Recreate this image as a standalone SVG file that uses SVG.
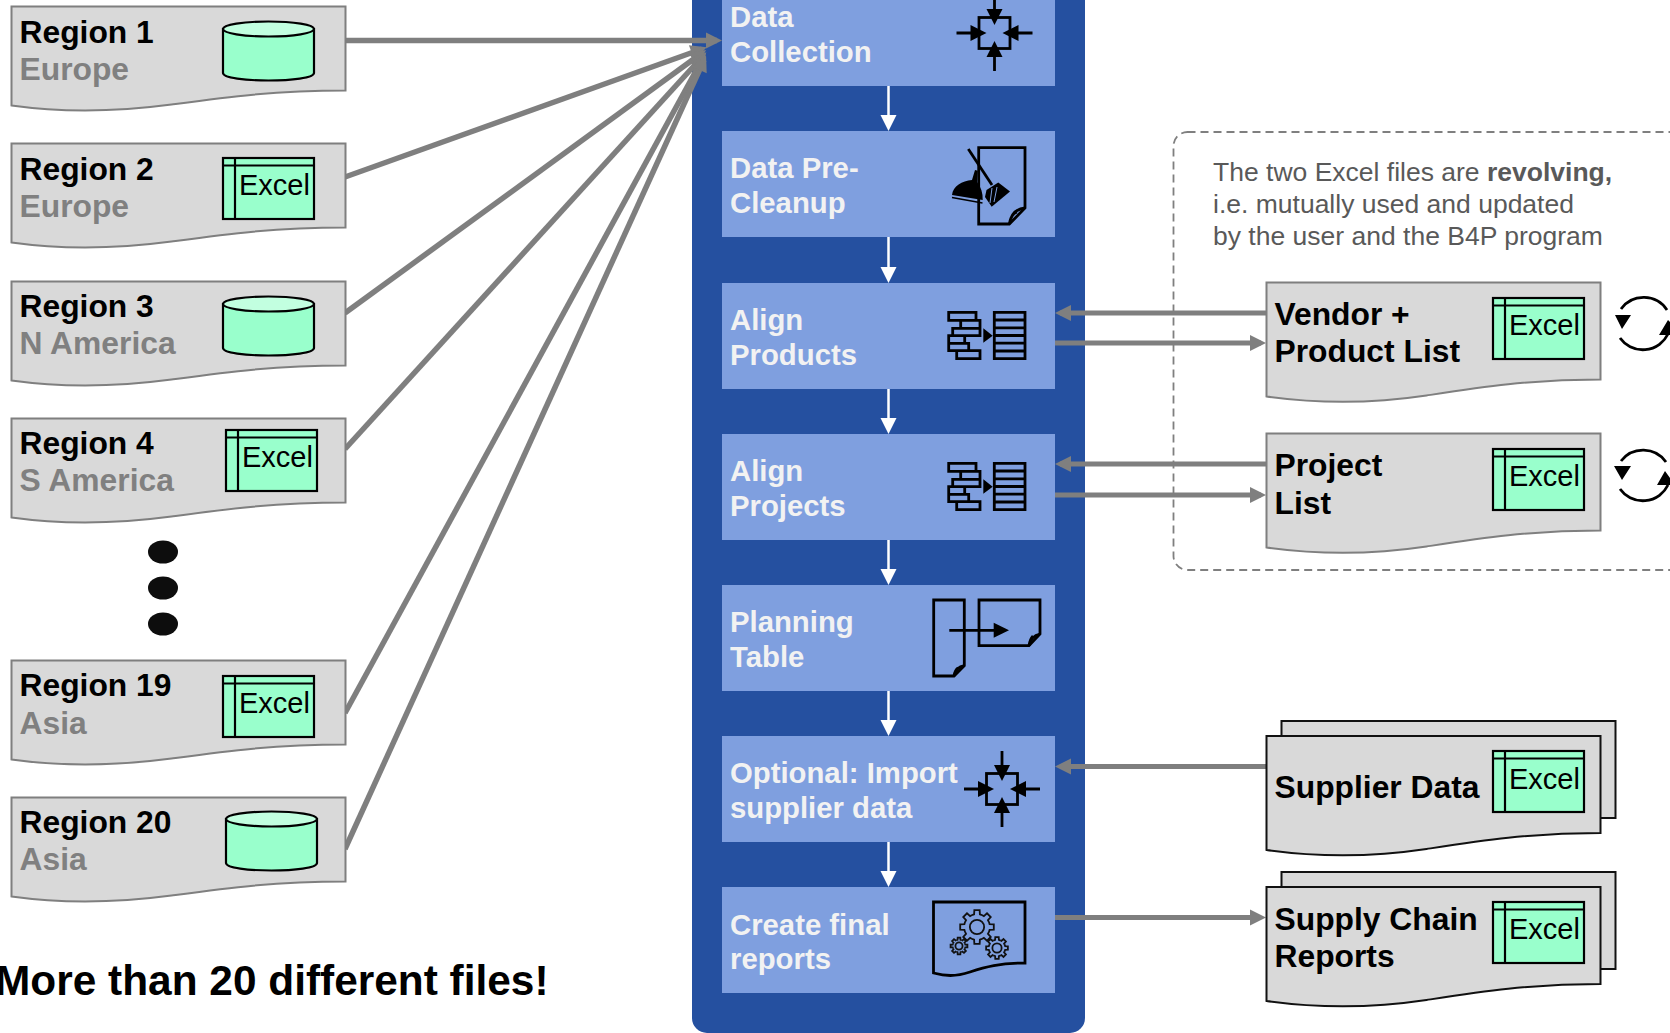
<svg xmlns="http://www.w3.org/2000/svg" xmlns:xlink="http://www.w3.org/1999/xlink" width="1670" height="1033" viewBox="0 0 1670 1033">
<style>
text{font-family:"Liberation Sans",Arial,sans-serif}
.t{font-weight:700;font-size:31.800px;fill:#000}
.s{font-weight:700;font-size:31.800px;fill:#808080}
.b{font-weight:700;font-size:29.300px;fill:#f2f2f2}
.x{font-size:29px;fill:#000}
.n{font-size:26.500px;fill:#595959}
.doc{fill:#d9d9d9;stroke:#7f7f7f;stroke-width:2}
.doc2{fill:#d9d9d9;stroke:#111;stroke-width:2}
.box{fill:#7f9fdf}
.ic{fill:none;stroke:#000;stroke-width:2.800}
.ar{fill:#000;stroke:none}
.g{stroke:#7f7f7f;stroke-width:5.500;fill:none}
.h{stroke:#7f7f7f;stroke-width:5;fill:none}
.w{stroke:#fff;stroke-width:2.500;fill:none}
.gear{fill:none;stroke:#111;stroke-width:1.800;vector-effect:non-scaling-stroke}
</style>
<defs>
<marker id="ga" markerUnits="userSpaceOnUse" markerWidth="18" markerHeight="18" refX="11" refY="8" orient="auto" overflow="visible"><path d="M0 0L16 8L0 16z" fill="#7f7f7f"/></marker>
<marker id="wa" markerUnits="userSpaceOnUse" markerWidth="18" markerHeight="18" refX="12" refY="8" orient="auto" overflow="visible"><path d="M0 0L16 8L0 16z" fill="#fff"/></marker>
<path id="d1" d="M0 0H334V84C262 84 212 91 160 98C100 106 50 106 0 99z"/>
<path id="d2" d="M0 0H334V97C262 97 212 105 160 113C100 122 50 121 0 114z"/>
<g id="xl"><rect x="0" y="0" width="91" height="61" fill="#9fc" stroke="#000" stroke-width="2.200"/><path d="M0 7.500H91M12 0V61" stroke="#000" stroke-width="2.200" fill="none"/></g>
<g id="cy"><path d="M0 8V52C0 62 91 62 91 52V8z" fill="#9fc" stroke="#000" stroke-width="2.200"/><ellipse cx="45.500" cy="8" rx="45.500" ry="7.500" fill="#c2ffe0" stroke="#000" stroke-width="2.200"/></g>
<g id="mg"><rect class="ic" x="-15.500" y="-15.500" width="31" height="31"/><path class="ic" d="M-38 0H-20M38 0H20M0 -38V-20M0 38V20"/><path class="ar" d="M-24 -8L-8 0L-24 8zM24 -8L8 0L24 8zM-8 -24L0 -8L8 -24zM-8 24L0 8L8 24z"/></g>
<g id="al"><path class="ic" d="M948.700 312.300h27.300v8h-27.300zM960.700 320.300h19.300v8h-19.300zM952.700 328.300h27.300v7.400h-27.300zM948.700 335.700h16v7.600h-16zM948.700 343.300h20v7.400h-20zM956.700 350.700h23.300v8h-23.300zM994.300 312.300h30.700v46.400h-30.700zM994.300 320h30.700M994.300 327.800h30.700M994.300 335.500h30.700M994.300 343.200h30.700M994.300 351h30.700"/><path class="ar" d="M983.300 328.300V342.700L992.700 335.700z"/></g>
<g id="tooth"><path class="gear" d="M70.200 -29.100L74 -17.100L98.800 -15.600L98.800 15.600L74 17.100L70.200 29.100"/></g>
<g id="gr"><use href="#tooth"/><use href="#tooth" transform="rotate(45)"/><use href="#tooth" transform="rotate(90)"/><use href="#tooth" transform="rotate(135)"/><use href="#tooth" transform="rotate(180)"/><use href="#tooth" transform="rotate(225)"/><use href="#tooth" transform="rotate(270)"/><use href="#tooth" transform="rotate(315)"/><circle class="gear" r="42"/></g>
</defs>

<rect width="1670" height="1033" fill="#fff"/>
<path id="panel" d="M692 -10H1085V1018A15 15 0 0 1 1070 1033H707A15 15 0 0 1 692 1018z" fill="#2550a0"/>
<rect id="note-frame" x="1173.500" y="132" width="520" height="438" rx="14" fill="none" stroke="#7f7f7f" stroke-width="1.800" stroke-dasharray="8 5"/>

<g id="connectors">
<path class="g" marker-end="url(#ga)" d="M345 40.500H717"/>
<path class="g" marker-end="url(#ga)" d="M345 177L702 49"/>
<path class="g" marker-end="url(#ga)" d="M345 313L702 53"/>
<path class="g" marker-end="url(#ga)" d="M345 449L703 56"/>
<path class="g" marker-end="url(#ga)" d="M345 713L703 58"/>
<path class="g" marker-end="url(#ga)" d="M345 849L704 60"/>
<path class="w" marker-end="url(#wa)" d="M888.500 86V127"/>
<path class="w" marker-end="url(#wa)" d="M888.500 237V279"/>
<path class="w" marker-end="url(#wa)" d="M888.500 389V430"/>
<path class="w" marker-end="url(#wa)" d="M888.500 540V581"/>
<path class="w" marker-end="url(#wa)" d="M888.500 691V732"/>
<path class="w" marker-end="url(#wa)" d="M888.500 842V883"/>
<path class="h" marker-end="url(#ga)" d="M1266 313H1060"/>
<path class="h" marker-end="url(#ga)" d="M1055 343H1261"/>
<path class="h" marker-end="url(#ga)" d="M1266 464H1060"/>
<path class="h" marker-end="url(#ga)" d="M1055 495H1261"/>
<path class="h" marker-end="url(#ga)" d="M1266 766.500H1060"/>
<path class="h" marker-end="url(#ga)" d="M1055 917.500H1261"/>
</g>

<g id="region1"><use href="#d1" x="11.500" y="6.500" class="doc"/><use href="#cy" x="223" y="21"/><text class="t" x="19.500" y="43">Region 1</text><text class="s" x="19.500" y="80">Europe</text></g>
<g id="region2"><use href="#d1" x="11.500" y="143.500" class="doc"/><use href="#xl" x="223" y="158"/><text class="x" x="239" y="195">Excel</text><text class="t" x="19.500" y="180">Region 2</text><text class="s" x="19.500" y="217">Europe</text></g>
<g id="region3"><use href="#d1" x="11.500" y="281.500" class="doc"/><use href="#cy" x="223" y="296"/><text class="t" x="19.500" y="317">Region 3</text><text class="s" x="19.500" y="354">N America</text></g>
<g id="region4"><use href="#d1" x="11.500" y="418.500" class="doc"/><use href="#xl" x="226" y="430"/><text class="x" x="242" y="467">Excel</text><text class="t" x="19.500" y="454">Region 4</text><text class="s" x="19.500" y="491">S America</text></g>
<g id="dots" fill="#0d0d0d"><ellipse cx="163" cy="552" rx="15" ry="11.500"/><ellipse cx="163" cy="588" rx="15" ry="11.500"/><ellipse cx="163" cy="624" rx="15" ry="11.500"/></g>
<g id="region19"><use href="#d1" x="11.500" y="660.500" class="doc"/><use href="#xl" x="223" y="676"/><text class="x" x="239" y="713">Excel</text><text class="t" x="19.500" y="696">Region 19</text><text class="s" x="19.500" y="734">Asia</text></g>
<g id="region20"><use href="#d1" x="11.500" y="797.500" class="doc"/><use href="#cy" x="226" y="811"/><text class="t" x="19.500" y="833">Region 20</text><text class="s" x="19.500" y="870">Asia</text></g>
<text id="summary" x="-5" y="995" font-weight="700" font-size="42.400" fill="#000">More than 20 different files!</text>

<g id="step1"><rect class="box" x="722" y="-20" width="333" height="106"/><text class="b" x="730" y="27">Data</text><text class="b" x="730" y="62">Collection</text><use href="#mg" transform="translate(994.500 33)"/></g>
<g id="step2"><rect class="box" x="722" y="131" width="333" height="106"/><text class="b" x="730" y="178">Data Pre-</text><text class="b" x="730" y="213">Cleanup</text>
<path class="ic" d="M978.700 147.700H1025V208L1009.300 224H978.700z"/><path class="ic" stroke-width="2" d="M1025 208Q1012 209 1009.300 224Q1011 214 1017 212"/>
<path class="box" d="M950 170H985V207H950z" fill-opacity="0"/>
<path class="ar" d="M986.500 190L998.300 182.500L1010 191.500L991.700 206.700L985 197z"/><path d="M992 188L990 203M997 187L994 202" stroke="#7f9fdf" stroke-width="1" fill="none"/><path class="ic" d="M968.300 149L992 185"/>
<path class="ar" d="M952 195C953 186 962 181 972 180L975 170L977.800 170.800L977 182C981 187 983 193 982.700 200z"/><path d="M952 197.500L982.500 203" stroke="#000" stroke-width="1.500" fill="none"/></g>
<g id="step3"><rect class="box" x="722" y="283" width="333" height="106"/><text class="b" x="730" y="330">Align</text><text class="b" x="730" y="365">Products</text><use href="#al"/></g>
<g id="step4"><rect class="box" x="722" y="434" width="333" height="106"/><text class="b" x="730" y="481">Align</text><text class="b" x="730" y="516">Projects</text><use href="#al" y="151"/></g>
<g id="step5"><rect class="box" x="722" y="585" width="333" height="106"/><text class="b" x="730" y="632">Planning</text><text class="b" x="730" y="667">Table</text>
<path class="ic" d="M933.700 600H964.300V665.700L954 676H933.700z"/><path class="ic" stroke-width="2" d="M964.300 665.700Q956 667 954 676Q955 670 958 668"/>
<path class="ic" d="M979 600H1040V634L1029 645.700H979z"/><path class="ic" stroke-width="2" d="M1040 634Q1031 636 1029 645.700Q1030 639 1033 636"/>
<path class="ic" d="M949.300 630.300H996"/><path class="ar" d="M993.700 622.800L1009 630.300L993.700 637.800z"/></g>
<g id="step6"><rect class="box" x="722" y="736" width="333" height="106"/><text class="b" x="730" y="783">Optional: Import</text><text class="b" x="730" y="818">supplier data</text><use href="#mg" transform="translate(1002 789)"/></g>
<g id="step7"><rect class="box" x="722" y="887" width="333" height="106"/><text class="b" x="730" y="935">Create final</text><text class="b" x="730" y="969">reports</text>
<path class="ic" d="M933.500 902H1025V963C1000 963 985 967 970 972C955 977 945 976 933.500 973z"/>
<use href="#gr" transform="translate(977 927) scale(.17)"/><use href="#gr" transform="translate(959 946) scale(.085)"/><use href="#gr" transform="translate(997 948) scale(.11)"/></g>

<g id="note"><text class="n" x="1213" y="181">The two Excel files are <tspan font-weight="700">revolving,</tspan></text><text class="n" x="1213" y="213">i.e. mutually used and updated</text><text class="n" x="1213" y="245">by the user and the B4P program</text></g>

<g id="vendor"><use href="#d2" x="1266.500" y="282.500" class="doc"/><use href="#xl" x="1493" y="298"/><text class="x" x="1509" y="335">Excel</text><text class="t" x="1274.500" y="325">Vendor +</text><text class="t" x="1274.500" y="362">Product List</text></g>
<g id="project"><use href="#d2" x="1266.500" y="433.500" class="doc"/><use href="#xl" x="1493" y="449"/><text class="x" x="1509" y="486">Excel</text><text class="t" x="1274.500" y="476">Project</text><text class="t" x="1274.500" y="514">List</text></g>
<g id="cycle1"><path class="ic" stroke-width="1.700" d="M1621 309A28 28 0 0 1 1667 310M1620 338A28 28 0 0 0 1668 334"/><path class="ar" d="M1615 315H1631L1622 329zM1659 335H1670V322L1668 320z"/></g>
<g id="cycle2"><path class="ic" stroke-width="1.700" d="M1621 461A28 28 0 0 1 1666 462M1620 489A28 28 0 0 0 1668 485"/><path class="ar" d="M1614 466H1631L1622 480zM1657 485H1670V478L1665 471z"/></g>
<g id="supplier"><rect class="doc2" x="1281.500" y="721" width="334" height="97"/><use href="#d2" x="1266.500" y="736" class="doc2"/><use href="#xl" x="1493" y="751"/><text class="x" x="1509" y="789">Excel</text><text class="t" x="1274.500" y="798">Supplier Data</text></g>
<g id="reports"><rect class="doc2" x="1281.500" y="872" width="334" height="97"/><use href="#d2" x="1266.500" y="887" class="doc2"/><use href="#xl" x="1493" y="902"/><text class="x" x="1509" y="939">Excel</text><text class="t" x="1274.500" y="930">Supply Chain</text><text class="t" x="1274.500" y="967">Reports</text></g>
</svg>
